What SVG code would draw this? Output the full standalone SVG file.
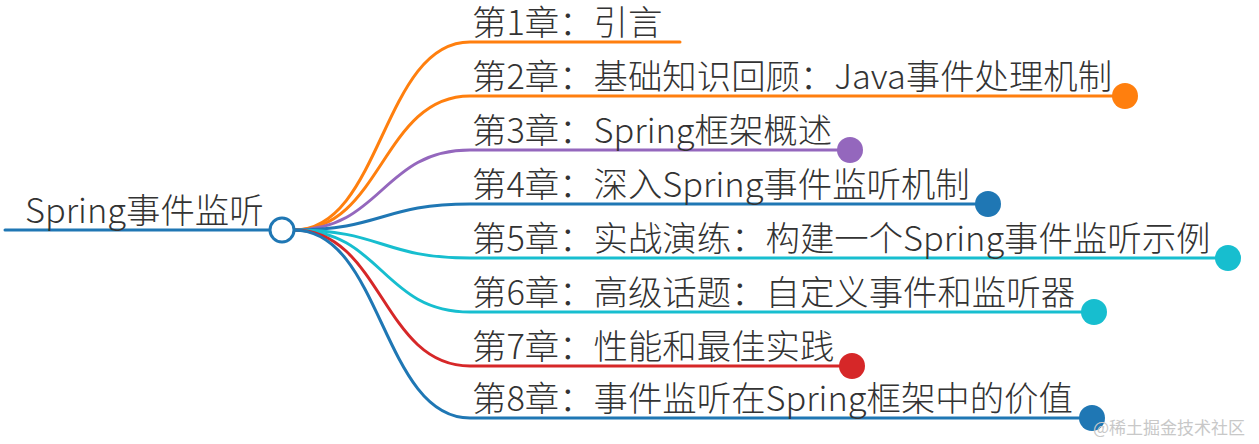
<svg xmlns="http://www.w3.org/2000/svg" width="1259" height="444" viewBox="0 0 1259 444">
<style>
text{font-family:"Noto Sans CJK SC","Microsoft YaHei",sans-serif;font-weight:300;font-size:34.4px;fill:#333}
.c path,.c line{fill:none;stroke-width:3;stroke-linecap:round}
.wm{font-size:17px;fill:#c8c8c8;font-weight:400}
</style>
<rect width="1259" height="444" fill="#fff"/>
<g id="connectors" class="c">
<line x1="5" y1="230" x2="270" y2="230" stroke="#1f77b4" stroke-width="4"/>
<path d="M294,230 C382,230 382,42 470,42 H680" stroke="#ff7f0e"/>
<path d="M294,230 C382,230 382,96 470,96 H1125" stroke="#ff7f0e"/>
<path d="M294,230 C382,230 382,150 470,150 H850" stroke="#9467bd"/>
<path d="M294,230 C382,230 382,204 470,204 H988" stroke="#1f77b4"/>
<path d="M294,230 C382,230 382,258 470,258 H1228" stroke="#17becf"/>
<path d="M294,230 C382,230 382,312 470,312 H1094" stroke="#17becf"/>
<path d="M294,230 C382,230 382,366 470,366 H852" stroke="#d62728"/>
<path d="M294,230 C382,230 382,418 470,418 H1092" stroke="#1f77b4"/>
</g>
<g id="root">
<text x="25" y="223">Spring事件监听</text>
<circle cx="282" cy="230" r="12" fill="#fff" stroke="#1f77b4" stroke-width="3"/>
</g>
<g id="n1"><text x="472" y="35">第1章：引言</text></g>
<g id="n2"><text x="472" y="89">第2章：基础知识回顾：Java事件处理机制</text><circle cx="1125" cy="96" r="13" fill="#ff7f0e"/></g>
<g id="n3"><text x="472" y="143">第3章：Spring框架概述</text><circle cx="850" cy="150" r="13" fill="#9467bd"/></g>
<g id="n4"><text x="472" y="197">第4章：深入Spring事件监听机制</text><circle cx="988" cy="204" r="13" fill="#1f77b4"/></g>
<g id="n5"><text x="472" y="251">第5章：实战演练：构建一个Spring事件监听示例</text><circle cx="1228" cy="258" r="13" fill="#17becf"/></g>
<g id="n6"><text x="472" y="305">第6章：高级话题：自定义事件和监听器</text><circle cx="1094" cy="312" r="13" fill="#17becf"/></g>
<g id="n7"><text x="472" y="359">第7章：性能和最佳实践</text><circle cx="852" cy="366" r="13" fill="#d62728"/></g>
<g id="n8"><text x="472" y="411">第8章：事件监听在Spring框架中的价值</text><circle cx="1092" cy="418" r="13" fill="#1f77b4"/></g>
<text class="wm" x="1093" y="434">@稀土掘金技术社区</text>
</svg>
